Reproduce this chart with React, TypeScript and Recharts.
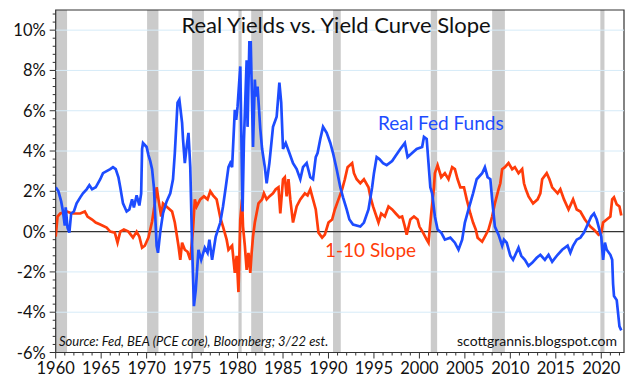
import { LineChart, Line, XAxis, YAxis, ReferenceArea, ReferenceLine } from 'recharts'

// Real Fed Funds (blue): year -> %
const fedFundsYears = [
  1960.0, 1960.3, 1960.6, 1960.8, 1961.0, 1961.1, 1961.3, 1961.5, 1961.7, 1962.0,
  1962.3, 1962.7, 1963.0, 1963.4, 1963.7, 1964.0, 1964.4, 1964.9, 1965.2, 1965.6,
  1966.0, 1966.3, 1966.6, 1966.9, 1967.1, 1967.4, 1967.8, 1968.1, 1968.4, 1968.6,
  1968.9, 1969.2, 1969.4, 1969.5, 1969.6, 1970.0, 1970.2, 1970.4, 1970.6, 1970.8,
  1971.1, 1971.25, 1971.5, 1971.8, 1972.2, 1972.6, 1972.9, 1973.1, 1973.4, 1973.6,
  1973.9, 1974.0, 1974.2, 1974.4, 1974.6, 1974.8, 1975.0, 1975.2, 1975.4, 1975.7,
  1976.0, 1976.4, 1976.7, 1976.9, 1977.2, 1977.6, 1978.1, 1978.4, 1978.7, 1979.0,
  1979.2, 1979.4, 1979.7, 1979.85, 1980.0, 1980.3, 1980.55, 1980.7, 1981.0, 1981.1,
  1981.3, 1981.45, 1981.7, 1981.9, 1982.0, 1982.2, 1982.5, 1982.7, 1983.0, 1983.2,
  1983.5, 1983.9, 1984.3, 1984.6, 1984.8, 1985.0, 1985.3, 1985.7, 1986.1, 1986.5,
  1986.9, 1987.2, 1987.6, 1988.0, 1988.3, 1988.6, 1988.8, 1989.1, 1989.4, 1989.8,
  1990.2, 1990.5, 1990.9, 1991.3, 1991.6, 1992.0, 1992.3, 1992.7, 1993.5, 1993.9,
  1994.4, 1994.8, 1995.0, 1995.3, 1995.6, 1996.0, 1996.4, 1997.0, 1997.3, 1997.9,
  1998.4, 1998.7, 1999.2, 1999.7, 2000.3, 2000.5, 2000.8, 2001.0, 2001.2, 2001.4,
  2001.7, 2002.0, 2002.4, 2002.8, 2003.4, 2003.9, 2004.3, 2004.7, 2005.0, 2005.4,
  2005.9, 2006.3, 2006.9, 2007.2, 2007.5, 2007.8, 2008.0, 2008.3, 2008.7, 2009.1,
  2009.3, 2009.6, 2010.0, 2010.3, 2010.9, 2011.2, 2011.6, 2012.0, 2012.4, 2012.9,
  2013.3, 2013.8, 2014.2, 2014.6, 2015.2, 2015.7, 2016.3, 2016.6, 2016.9, 2017.3,
  2017.7, 2018.1, 2018.6, 2018.9, 2019.2, 2019.5, 2020.0, 2020.2, 2020.4, 2020.6,
  2021.0, 2021.2, 2021.3, 2021.4, 2021.7, 2022.0, 2022.2,
]
const fedFundsValues = [
  2.2, 2.0, 1.5, 1.0, 0.3, 1.2, 0.2, -0.05, 0.9, 1.0,
  1.4, 1.7, 1.9, 2.1, 2.3, 2.1, 2.2, 2.6, 2.9, 3.0,
  3.1, 3.2, 3.1, 2.7, 2.2, 1.4, 1.0, 1.1, 1.6, 1.2,
  1.8, 1.3, 1.9, 4.1, 4.4, 4.2, 3.8, 3.5, 3.1, 2.2,
  -0.7, -1.05, 0.0, 0.9, 1.5, 1.9, 2.6, 3.9, 6.4, 6.55,
  5.4, 4.6, 3.4, 4.2, 4.9, 3.2, -0.7, -3.7, -2.9, -0.9,
  -1.4, -0.8, -1.05, -0.4, -1.4, -0.25, 0.45, 1.25, 2.2, 3.2,
  3.4, 3.2, 6.05, 5.55, 6.2, 8.2, 1.0, 4.5, 8.5, 5.2,
  9.4, 9.4, 4.2, 7.55, 6.7, 7.2, 5.1, 4.1, 3.2, 2.4,
  3.4, 5.2, 5.7, 7.4, 6.4, 4.1, 4.4, 3.9, 3.4, 3.1,
  2.6, 3.2, 3.4, 2.7, 2.6, 3.7, 3.9, 4.6, 5.2, 4.9,
  4.4, 3.9, 3.1, 2.2, 1.7, 1.1, 0.6, 0.35, 0.25, 0.45,
  1.1, 2.2, 2.9, 3.7, 3.6, 3.4, 3.3, 3.5, 3.7, 4.1,
  4.4, 3.7, 3.9, 4.1, 4.2, 4.7, 4.6, 3.4, 2.2, 1.9,
  0.75, 0.1, -0.05, -0.4, -0.3, -0.55, -0.9, -0.4, 0.45, 1.1,
  1.9, 2.6, 2.9, 3.2, 2.7, 2.6, 1.6, 0.25, -0.15, -0.7,
  -0.4, -0.55, -1.2, -1.4, -0.8, -1.2, -1.4, -1.7, -1.55, -1.3,
  -1.15, -1.4, -1.15, -1.5, -1.15, -0.9, -0.7, -1.05, -0.7, -0.4,
  -0.3, -0.05, 0.45, 0.75, 0.9, 0.6, -0.25, -1.4, -0.55, -0.9,
  -1.15, -1.4, -2.6, -3.2, -3.4, -4.7, -4.9,
]

// 1-10 year Treasury slope (red)
const slopeYears = [
  1960.0, 1960.2, 1960.5, 1961.2, 1961.8, 1962.7, 1963.2, 1963.5, 1964.0, 1964.4,
  1964.9, 1965.6, 1966.0, 1966.5, 1966.8, 1967.1, 1967.5, 1968.0, 1968.5, 1968.9,
  1969.2, 1969.5, 1969.8, 1970.2, 1970.6, 1970.9, 1971.1, 1971.3, 1971.6, 1971.8,
  1972.3, 1972.8, 1973.1, 1973.5, 1973.7, 1973.9, 1974.2, 1974.5, 1974.8, 1975.1,
  1975.3, 1975.5, 1975.9, 1976.3, 1976.7, 1977.0, 1977.3, 1977.7, 1978.1, 1978.4,
  1978.8, 1979.0, 1979.4, 1979.7, 1979.9, 1980.1, 1980.3, 1980.5, 1980.6, 1980.8,
  1981.0, 1981.2, 1981.4, 1981.55, 1981.7, 1981.9, 1982.3, 1982.7, 1982.9, 1983.2,
  1983.5, 1983.9, 1984.2, 1984.5, 1984.7, 1985.0, 1985.2, 1985.4, 1985.6, 1985.8,
  1986.1, 1986.5, 1986.9, 1987.4, 1987.7, 1988.0, 1988.3, 1988.6, 1988.9, 1989.3,
  1989.6, 1990.0, 1990.4, 1990.7, 1991.1, 1991.5, 1991.8, 1992.1, 1992.6, 1992.8,
  1993.1, 1993.5, 1993.9, 1994.4, 1994.6, 1994.9, 1995.2, 1995.5, 1995.8, 1996.2,
  1996.6, 1997.0, 1997.4, 1997.8, 1998.1, 1998.4, 1998.6, 1999.0, 1999.4, 1999.8,
  2000.0, 2000.4, 2000.8, 2001.0, 2001.3, 2001.5, 2001.6, 2001.7, 2002.0, 2002.4,
  2002.8, 2003.2, 2003.6, 2003.9, 2004.2, 2004.5, 2004.9, 2005.2, 2005.6, 2005.9,
  2006.2, 2006.4, 2006.9, 2007.2, 2007.6, 2008.0, 2008.3, 2008.7, 2008.9, 2009.1,
  2009.4, 2009.8, 2010.2, 2010.5, 2010.9, 2011.3, 2011.5, 2011.7, 2012.0, 2012.5,
  2013.0, 2013.3, 2013.5, 2014.0, 2014.3, 2014.6, 2015.2, 2015.5, 2015.9, 2016.4,
  2016.9, 2017.3, 2017.7, 2018.2, 2018.8, 2019.2, 2019.7, 2020.0, 2020.2, 2020.6,
  2021.0, 2021.2, 2021.4, 2021.7, 2022.0, 2022.2,
]
const slopeValues = [
  -0.25, 0.75, 0.9, 1.0, 0.9, 0.9, 1.0, 0.75, 0.6, 0.45,
  0.35, 0.2, 0.0, -0.05, -0.55, 0.0, 0.1, 0.0, -0.3, 0.0,
  -0.25, -0.8, -0.7, -0.3, 0.5, 1.4, 2.2, 1.6, 0.75, 1.4,
  1.2, 1.0, 0.45, -0.7, -1.4, -0.55, -0.9, -1.0, -1.4, 0.1,
  1.6, 1.25, 1.6, 1.75, 1.6, 2.0, 1.8, 1.6, 0.7, 0.25,
  -0.4, -0.9, -0.7, -2.05, -1.2, -3.0, 0.6, 1.6, 0.25, -0.7,
  -1.9, -1.05, -2.05, -1.05, -0.25, 0.45, 1.4, 1.6, 1.9, 1.6,
  1.75, 1.9, 2.1, 2.2, 0.9, 2.6, 2.7, 1.75, 2.6, 1.6,
  0.45, 1.25, 1.6, 1.9, 1.8, 2.1, 1.6, 1.1, -0.05, -0.3,
  -0.15, 0.45, 0.6, 1.1, 1.6, 2.1, 2.6, 3.2, 3.4, 2.9,
  2.6, 2.4, 2.6, 2.2, 1.75, 1.25, 0.85, 0.45, 0.9, 0.75,
  1.25, 1.1, 0.9, 0.7, 0.75, 0.25, -0.15, 0.6, 0.75, 0.6,
  0.25, -0.05, -0.4, -0.55, 0.9, 1.75, 2.2, 2.9, 3.3, 2.7,
  2.9, 2.6, 3.2, 3.1, 2.6, 2.2, 2.2, 1.6, 0.9, 0.45,
  0.1, -0.3, -0.5, -0.25, 0.1, 0.75, 1.4, 2.1, 2.4, 3.1,
  3.2, 3.4, 3.1, 3.2, 2.9, 3.1, 2.4, 2.1, 1.75, 1.4,
  1.6, 1.9, 2.6, 2.9, 2.6, 2.2, 1.9, 2.1, 1.6, 1.1,
  1.6, 1.1, 1.0, 0.6, 0.25, 0.1, -0.15, -0.05, 0.45, 0.6,
  0.75, 1.6, 1.7, 1.35, 1.25, 0.8,
]

// recession shading as drawn in the picture
const recessionStarts = [1960.0, 1970.05, 1975.0, 1980.1, 1981.5, 1990.5, 2001.25, 2008.0, 2019.9]
const recessionEnds = [1961.25, 1971.3, 1976.3, 1980.45, 1982.8, 1991.35, 2001.95, 2009.4, 2020.35]

const yGridValues = [-4, -2, 2, 4, 6, 8, 10]
const xLabelYears = [1960, 1965, 1970, 1975, 1980, 1985, 1990, 1995, 2000, 2005, 2010, 2015, 2020]

const fedFunds = fedFundsYears.map((year, i) => ({ year, value: fedFundsValues[i] }))
const slope = slopeYears.map((year, i) => ({ year, value: slopeValues[i] }))

const yearTicks = Array.from({ length: 63 }, (_, i) => 1960 + i)
const yTicks = Array.from({ length: 43 }, (_, i) => Math.round((-6 + i * 0.4) * 10) / 10)

const BLUE = '#1d4cff'
const RED = '#ff3c0a'
const FONT = 'Lato, "Open Sans", sans-serif'

function YTick({ x, y, payload }: any) {
  const v = payload.value
  const major = Math.abs(v % 2) < 1e-6
  return (
    <g>
      <line x1={x - (major ? 6 : 3)} x2={x} y1={y} y2={y} stroke="#333" strokeWidth={1} />
      {major && (
        <text x={x - 10} y={y} textAnchor="end" dominantBaseline="central" fontSize={16.5} fill="#111" fontFamily={FONT}>
          {v}%
        </text>
      )}
    </g>
  )
}

function XTick({ x, y, payload }: any) {
  const major = xLabelYears.includes(payload.value)
  return (
    <g>
      <line x1={x} x2={x} y1={y} y2={y + (major ? 6 : 3)} stroke="#333" strokeWidth={1} />
      {major && (
        <text x={x} y={y + 21.5} textAnchor="middle" fontSize={16.5} fill="#111" fontFamily={FONT}>
          {payload.value}
        </text>
      )}
    </g>
  )
}

export default function App() {
  return (
    <div style={{ position: 'relative', width: 636, height: 379, background: '#fff' }}>
      <style>{'body{margin:0}'}</style>
      <LineChart width={636} height={379} margin={{ top: 10, right: 12, bottom: 0, left: 0 }}>
        <XAxis
          dataKey="year" type="number" domain={[1960, 2022.5]} allowDataOverflow
          ticks={yearTicks} interval={0} tick={<XTick />} tickSize={0} tickMargin={0}
          axisLine={false} height={26.5}
        />
        <YAxis
          type="number" domain={[-6, 11]} allowDataOverflow
          ticks={yTicks} interval={0} tick={<YTick />} tickSize={0} tickMargin={0}
          axisLine={false} width={55.7}
        />
        {recessionStarts.map((s, i) => (
          <ReferenceArea key={s} x1={s} x2={recessionEnds[i]} y1={-6} y2={11} fill="#cbcbcb" fillOpacity={1} stroke="none" />
        ))}
        {yGridValues.map(v => (
          <ReferenceLine key={v} y={v} stroke="#d6ebf8" strokeWidth={1} />
        ))}
        <ReferenceLine y={0} stroke="#333" strokeWidth={1.2} />
        <Line data={slope} dataKey="value" stroke={RED} strokeWidth={2.7} dot={false} isAnimationActive={false} />
        <Line data={fedFunds} dataKey="value" stroke={BLUE} strokeWidth={2.7} dot={false} isAnimationActive={false} />
        <ReferenceArea x1={1960} x2={2022.5} y1={-6} y2={11} fill="none" stroke="#333" strokeWidth={1.2} />
      </LineChart>
      <svg width={636} height={379} style={{ position: 'absolute', left: 0, top: 0, pointerEvents: 'none' }} fontFamily={FONT}>
        <text x={336} y={33} textAnchor="middle" fontSize={22} fill="#111">Real Yields vs. Yield Curve Slope</text>
        <text x={378} y={130} fontSize={19} fill={BLUE}>Real Fed Funds</text>
        <text x={325} y={257} fontSize={19} fill={RED}>1-10 Slope</text>
        <text x={59} y={346} fontSize={13} fontStyle="italic" fill="#111">Source: Fed, BEA (PCE core), Bloomberg; 3/22 est.</text>
        <text x={617} y={346} textAnchor="end" fontSize={14} fill="#111">scottgrannis.blogspot.com</text>
      </svg>
    </div>
  )
}
